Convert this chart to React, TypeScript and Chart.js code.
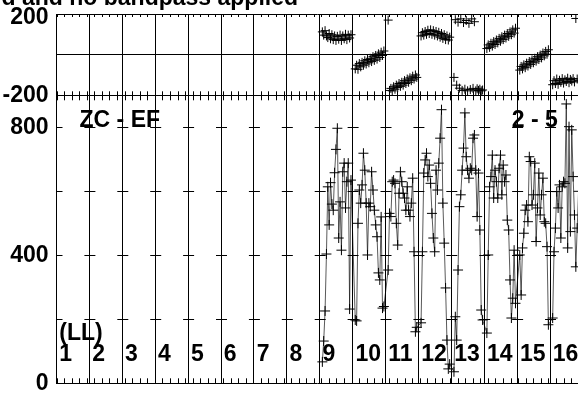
import React, { useEffect, useRef } from 'react';
import { Chart, registerables } from 'chart.js';

Chart.register(...registerables);

// ---- text ----
const TITLE = 'd and no bandpass applied';
const BASELINE_A = 'ZC - EF';
const BASELINE_B = '2 - 5';
const POL_LABEL = '(LL)';
const SCAN_LABELS = ['1', '2', '3', '4', '5', '6', '7', '8', '9', '10', '11', '12', '13', '14', '15', '16'];

// ---- axes ----
const PHASE_TICKS = [-200, 0, 200];
const PHASE_TICK_LABELS: (string | string[])[] = ['-200', '', ['', '200']];
const AMP_TICKS = [0, 200, 400, 600, 800];
const AMP_TICK_LABELS = ['0', '', '400', '', '800'];
const PHASE_MIN = -200;
const PHASE_MAX = 200;
const AMP_MIN = 0;
const AMP_MAX = 900;
const X_MIN = 0;
const X_MAX = 15.85;
const MINOR_STEP = 0.23;

// ---- data (scans 9..16), amplitude ----
const AMP_9 = [67, 132, 226, 404, 614, 495, 627, 560, 541, 658, 731, 797, 454, 567, 416, 661, 688, 548, 630, 688, 232, 635];
const AMP_10 = [198, 195, 500, 604, 563, 620, 719, 666, 563, 401, 563, 552, 661, 604, 541, 495, 458, 345, 323, 520, 235, 240];
const AMP_11 = [354, 531, 521, 630, 635, 625, 500, 432, 594, 661, 630, 594, 579, 541, 614, 541, 521, 563, 641, 411, 161, 175];
const AMP_12 = [189, 411, 657, 698, 719, 646, 682, 625, 531, 454, 411, 666, 604, 688, 766, 855, 563, 438, 298, 135, 45, 60];
const AMP_13 = [36, 208, 135, 354, 552, 589, 666, 735, 845, 708, 666, 641, 672, 666, 766, 776, 666, 521, 657, 479, 229, 198];
const AMP_14 = [157, 401, 614, 646, 713, 579, 666, 630, 579, 672, 713, 589, 682, 630, 651, 510, 479, 323, 204, 266, 416, 250];
const AMP_15 = [401, 276, 423, 469, 541, 557, 505, 708, 693, 557, 589, 688, 443, 548, 657, 526, 589, 641, 505, 500, 427, 183];
const AMP_16 = [204, 411, 485, 599, 548, 620, 454, 614, 630, 625, 873, 423, 802, 474, 792, 646, 526, 364, 485, 600, 420, 500];

// ---- data (scans 9..16), phase ----
const PH_9 = [112, 96, 118, 92, 84, 104, 78, 98, 74, 92, 70, 90, 76, 96, 70, 92, 78, 100, 74, 96, 82, 98];
const PH_10 = [-70, -52, -72, -44, -60, -38, -52, -30, -46, -24, -40, -18, -34, -10, -28, -4, -22, 4, -14, 12, -4, 18];
const PH_11 = [170, -176, -166, -178, -158, -170, -150, -162, -142, -156, -136, -150, -128, -142, -120, -136, -114, -128, -106, -120, -100, -112];
const PH_12 = [92, 108, 96, 114, 100, 120, 104, 122, 100, 118, 96, 114, 92, 110, 86, 104, 80, 98, 74, 92, 72, 86];
const PH_13 = [-112, 172, -150, 160, -165, 176, -176, 158, -170, 168, -178, 154, -172, 176, -166, 162, -178, -168, -176, -170, -178, -174];
const PH_14 = [30, 48, 36, 56, 42, 64, 50, 72, 58, 80, 66, 88, 74, 96, 82, 104, 90, 112, 98, 122, 106, 130];
const PH_15 = [-76, -58, -70, -50, -64, -42, -56, -34, -48, -26, -40, -18, -32, -10, -24, -2, -16, 8, -6, 16, 2, 24];
const PH_16 = [-148, -128, -142, -120, -146, -126, -136, -118, -140, -124, -132, -116, -138, -122, -130, -118, -134, 178, -120, -128, -136, -124];

const DATA_SCANS = [9, 10, 11, 12, 13, 14, 15, 16];
const AMP_BY_SCAN = [AMP_9, AMP_10, AMP_11, AMP_12, AMP_13, AMP_14, AMP_15, AMP_16];
const PH_BY_SCAN = [PH_9, PH_10, PH_11, PH_12, PH_13, PH_14, PH_15, PH_16];

// sample times within a scan (scan units, evenly sampled)
const SAMPLE_START = 0.08;
const SAMPLE_SPAN = 0.87;

function buildPoints(series: number[][]) {
  const pts: { x: number; y: number }[] = [];
  DATA_SCANS.forEach((scan, si) => {
    const vals = series[si];
    vals.forEach((v, i) => {
      pts.push({ x: scan - 1 + SAMPLE_START + (i * SAMPLE_SPAN) / (vals.length - 1), y: v });
    });
  });
  return pts;
}

const FAMILY = '"Liberation Sans", Arial, Helvetica, sans-serif';
const FONT = 'bold 23px ' + FAMILY;

const decor = {
  id: 'decor',
  afterDraw(chart: any) {
    const { ctx, scales } = chart;
    const xs = scales.x;
    const ya = scales.yAmp;
    const yp = scales.yPhase;
    ctx.save();
    ctx.strokeStyle = '#000';
    ctx.lineWidth = 1;
    ctx.beginPath();
    // minor time ticks on panel edges
    for (let k = 0; k * MINOR_STEP <= xs.max; k++) {
      const px = Math.round(xs.getPixelForValue(k * MINOR_STEP)) + 0.5;
      ctx.moveTo(px, yp.top);
      ctx.lineTo(px, yp.top + 3);
      ctx.moveTo(px, yp.bottom - 4);
      ctx.lineTo(px, yp.bottom + 5);
      ctx.moveTo(px, ya.bottom);
      ctx.lineTo(px, ya.bottom - 5);
    }
    // amplitude ticks on every scan separator
    for (let s = 0; s < SCAN_LABELS.length; s++) {
      const px = xs.getPixelForValue(s);
      for (const v of AMP_TICKS) {
        if (v === 0) continue;
        const py = Math.round(ya.getPixelForValue(v)) + 0.5;
        ctx.moveTo(s === 0 ? px : px - 5, py);
        ctx.lineTo(px + 6, py);
      }
    }
    ctx.stroke();

    ctx.fillStyle = '#000';
    ctx.font = FONT;
    ctx.textBaseline = 'alphabetic';
    ctx.textAlign = 'right';
    ctx.fillText(TITLE, 298, 5);
    ctx.textAlign = 'left';
    ctx.fillText(BASELINE_A, xs.getPixelForValue(0.7), ya.getPixelForValue(800));
    ctx.fillText(BASELINE_B, xs.getPixelForValue(13.84), ya.getPixelForValue(800));
    ctx.fillText(POL_LABEL, xs.getPixelForValue(0) + 2.8, ya.getPixelForValue(135));
    SCAN_LABELS.forEach((lab, i) => {
      ctx.fillText(lab, xs.getPixelForValue(i) + 2.8, ya.getPixelForValue(71));
    });
    ctx.restore();
  },
};

export default function App() {
  const ref = useRef<HTMLCanvasElement>(null);
  useEffect(() => {
    document.body.style.margin = '0';
    const fixY = (scale: any) => {
      scale.width = 56.5;
      scale.paddingTop = 0;
      scale.paddingBottom = 0;
    };
    const chart = new Chart(ref.current as HTMLCanvasElement, {
      type: 'line',
      data: {
        datasets: [
          {
            label: 'amplitude',
            data: buildPoints(AMP_BY_SCAN),
            yAxisID: 'yAmp',
            xAxisID: 'x',
            borderColor: 'rgba(0,0,0,0.65)',
            borderWidth: 1,
            pointStyle: 'cross',
            pointRadius: 5,
            pointBorderColor: '#000',
            pointBorderWidth: 1,
            tension: 0,
            fill: false,
          },
          {
            label: 'phase',
            data: buildPoints(PH_BY_SCAN),
            yAxisID: 'yPhase',
            xAxisID: 'x',
            showLine: false,
            borderColor: '#000',
            pointStyle: 'cross',
            pointRadius: 4.5,
            pointBorderColor: '#000',
            pointBorderWidth: 1,
          },
        ],
      },
      options: {
        animation: false,
        responsive: false,
        devicePixelRatio: 1,
        layout: { padding: { top: 14, left: 0, right: 0, bottom: 0 } },
        plugins: { legend: { display: false }, tooltip: { enabled: false }, title: { display: false } },
        scales: {
          x: {
            type: 'linear',
            min: X_MIN,
            max: X_MAX,
            position: 'bottom',
            afterBuildTicks: (scale: any) => {
              scale.ticks = SCAN_LABELS.map((_, i) => ({ value: i }));
            },
            afterFit: (scale: any) => {
              scale.height = 10.7;
              scale.paddingLeft = 0;
              scale.paddingRight = 0;
            },
            ticks: { display: false },
            grid: { color: '#000', lineWidth: 1, drawTicks: false },
            border: { display: false },
          },
          yAmp: {
            type: 'linear',
            position: 'left',
            stack: 'panels',
            stackWeight: 288,
            min: AMP_MIN,
            max: AMP_MAX,
            afterBuildTicks: (scale: any) => {
              scale.ticks = AMP_TICKS.map((v) => ({ value: v }));
            },
            afterFit: fixY,
            ticks: {
              color: '#000',
              padding: 8,
              font: { family: FAMILY, size: 23, weight: 'bold', lineHeight: 1 },
              callback: (v: any) => AMP_TICK_LABELS[AMP_TICKS.indexOf(Number(v))] ?? '',
            },
            grid: {
              drawTicks: false,
              lineWidth: 1,
              color: (c: any) => (c.tick && c.tick.value === 0 ? '#000' : 'rgba(0,0,0,0)'),
            },
            border: { display: true, color: '#000', width: 1 },
          },
          yPhase: {
            type: 'linear',
            position: 'left',
            stack: 'panels',
            stackWeight: 81.3,
            min: PHASE_MIN,
            max: PHASE_MAX,
            afterBuildTicks: (scale: any) => {
              scale.ticks = PHASE_TICKS.map((v) => ({ value: v }));
            },
            afterFit: fixY,
            ticks: {
              color: '#000',
              padding: 8,
              font: { family: FAMILY, size: 23, weight: 'bold', lineHeight: 0.35 },
              callback: (v: any) => PHASE_TICK_LABELS[PHASE_TICKS.indexOf(Number(v))] ?? '',
            },
            grid: { drawTicks: false, lineWidth: 1, color: '#000' },
            border: { display: true, color: '#000', width: 1 },
          },
        },
      } as any,
      plugins: [decor],
    });
    return () => chart.destroy();
  }, []);
  return (
    <div style={{ width: 584, height: 394, overflow: 'hidden', position: 'relative' }}>
      <canvas ref={ref} width={584} height={394} style={{ display: 'block' }} />
    </div>
  );
}
